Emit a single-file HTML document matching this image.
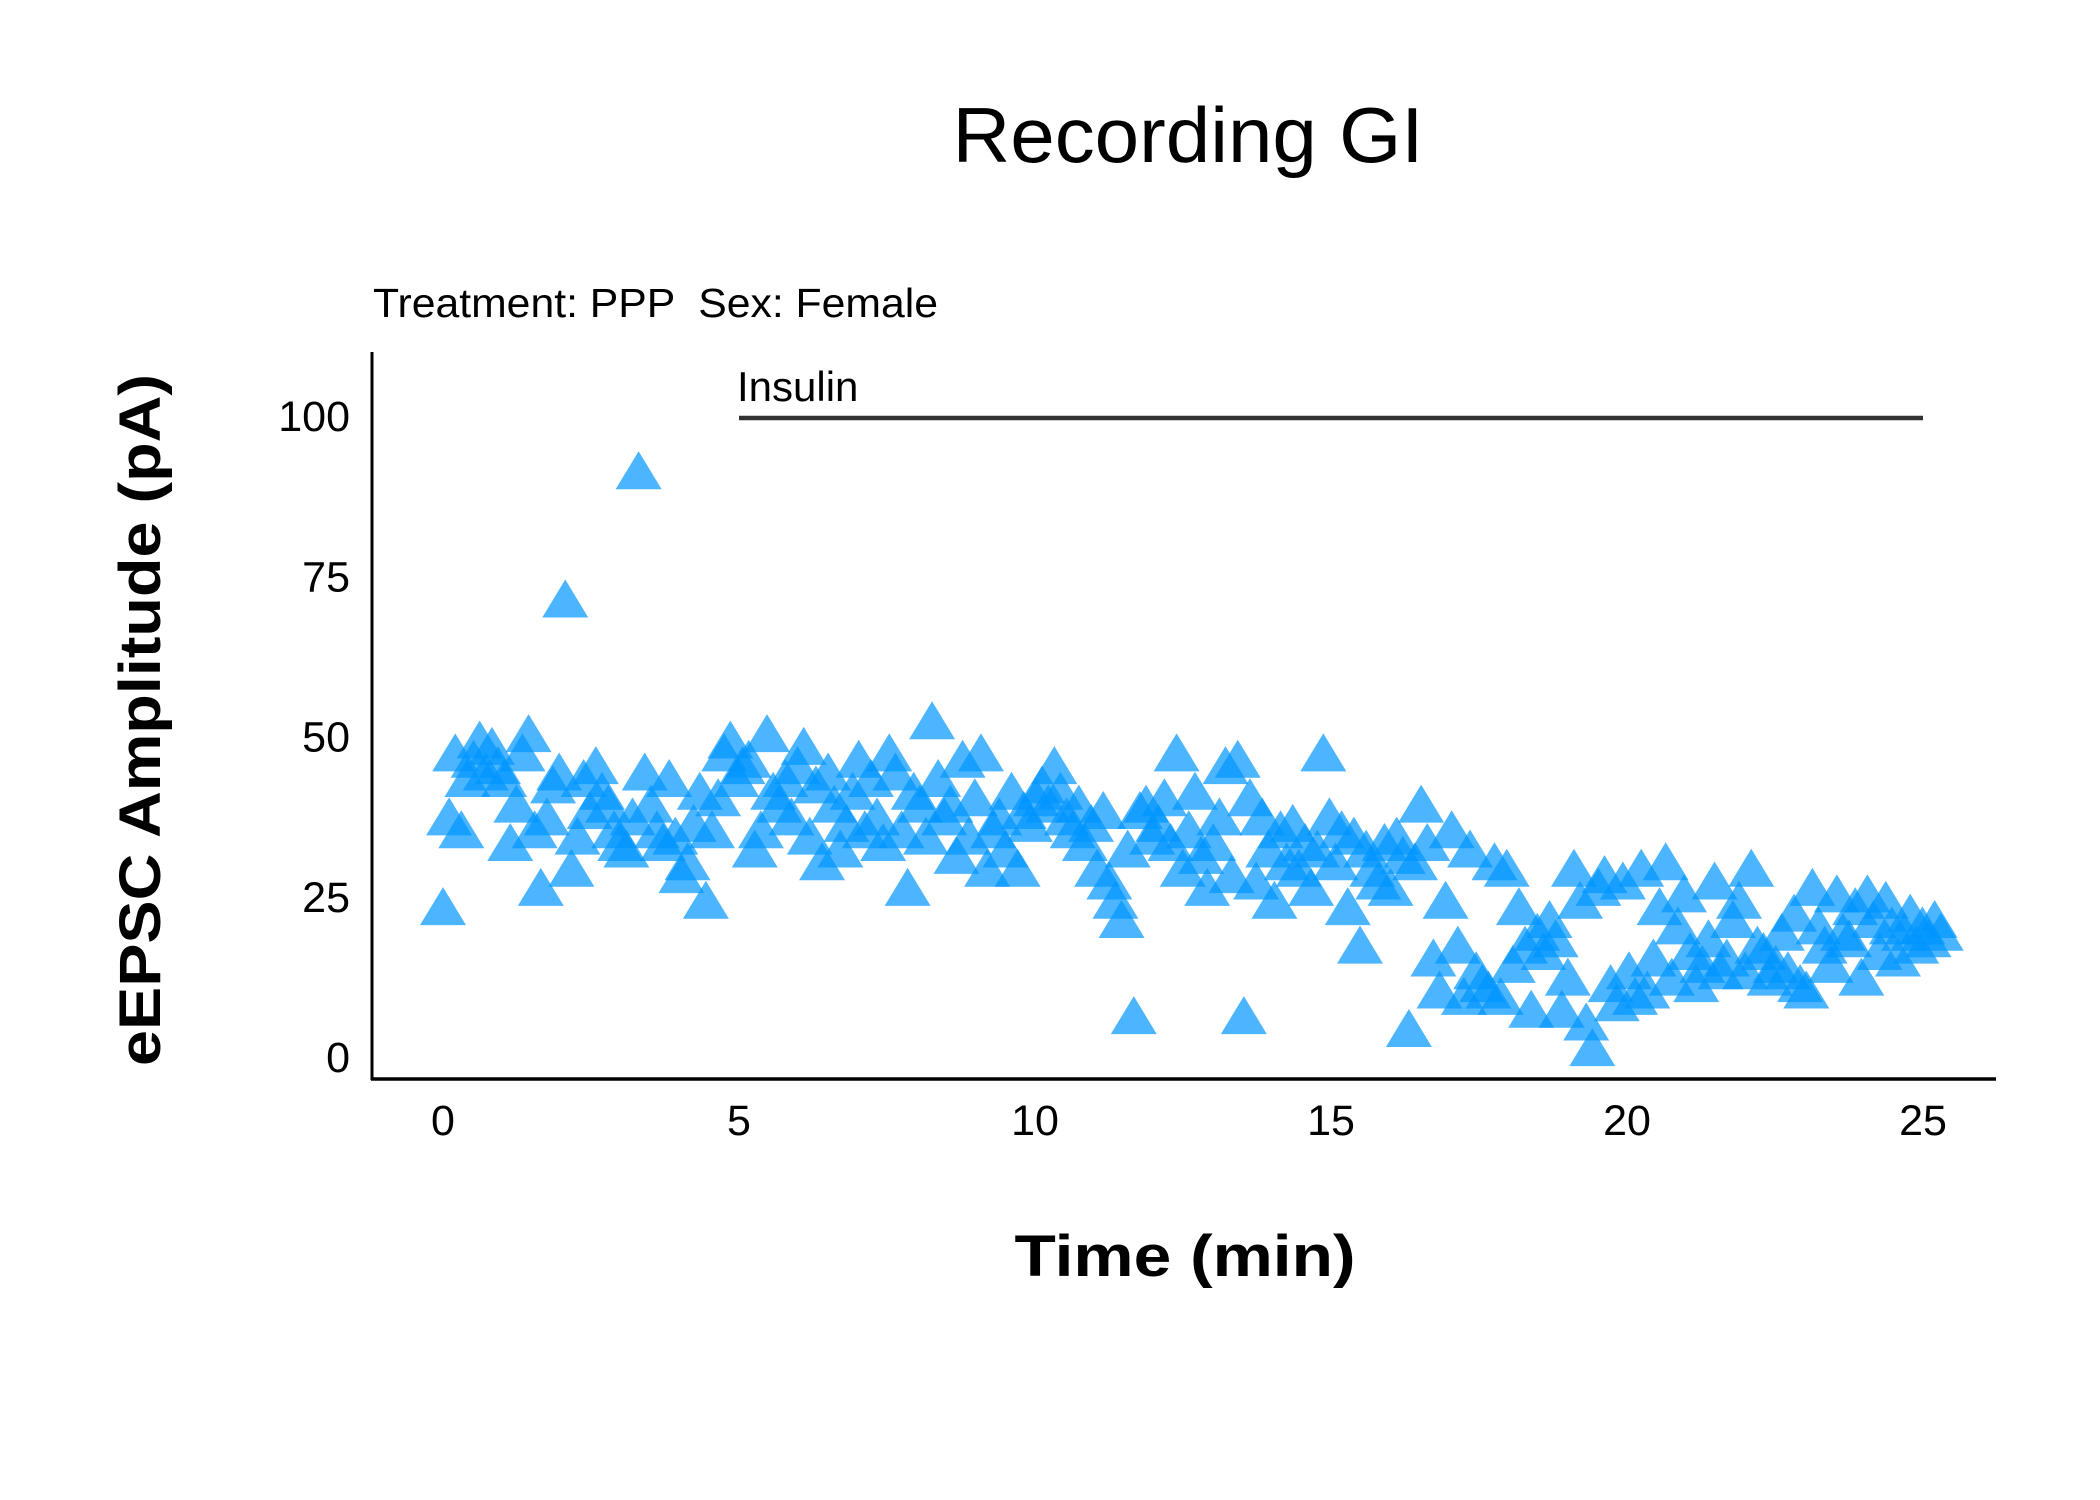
<!DOCTYPE html>
<html><head><meta charset="utf-8"><style>
html,body{margin:0;padding:0;background:#fff}
svg{display:block}
text{font-family:"Liberation Sans",sans-serif;fill:#000}
</style></head><body>
<svg id="chart" width="2100" height="1500" viewBox="0 0 2100 1500" xmlns="http://www.w3.org/2000/svg">
<text x="1188" y="162" font-size="78" text-anchor="middle" textLength="471" lengthAdjust="spacingAndGlyphs">Recording GI</text>
<text x="373" y="317" font-size="41" textLength="565" lengthAdjust="spacingAndGlyphs" xml:space="preserve">Treatment: PPP  Sex: Female</text>
<g id="plot"></g>
<line x1="372" y1="352" x2="372" y2="1080" stroke="#000" stroke-width="3"/>
<line x1="371" y1="1079" x2="1996" y2="1079" stroke="#000" stroke-width="3.5"/>
<g id="yticks"></g>
<g id="xticks"></g>
<text x="1185" y="1276" font-size="58" font-weight="bold" text-anchor="middle" textLength="341" lengthAdjust="spacingAndGlyphs">Time (min)</text>
<text transform="translate(160,720) rotate(-90)" font-size="58" font-weight="bold" text-anchor="middle" textLength="692" lengthAdjust="spacingAndGlyphs">eEPSC Amplitude (pA)</text>
</svg>
<script>
const amplitudes = [
24,38,48,36,44,47,50,45,49,46,
44,34,40,48,51,36,27,38,43,45,
72,30,35,44,39,46,42,40,36,34,
33,38,92,45,40,36,34,44,35,29,
31,37,42,25,36,41,48,50,44,46,
47,33,36,51,42,40,44,38,46,49,
35,43,31,45,40,33,37,42,47,36,
44,38,34,48,45,36,27,42,40,35,
53,44,38,40,32,47,35,41,48,30,
36,38,33,42,30,39,37,41,43,40,
46,42,38,36,40,34,37,30,39,28,
25,22,33,7,39,40,35,37,41,34,
48,30,36,42,32,27,34,38,46,29,
47,7,41,28,38,33,25,36,31,37,
30,34,27,33,48,38,31,36,24,35,
18,33,30,28,34,27,35,32,5,31,
40,34,16,11,25,36,18,10,33,14,
12,11,31,10,30,15,24,18,8,20,
17,22,19,8,13,30,25,6,2,27,
29,12,9,28,14,10,30,11,16,24,
31,13,21,26,17,12,15,19,28,14,
16,22,25,14,30,18,17,13,15,20,
14,23,12,11,27,21,18,15,26,20,
19,24,13,26,22,17,25,21,16,20,
23,18,21,19,22,20
];
const tEnd = 25.3;
const yTickValues = [0,25,50,75,100];
const xTickValues = [0,5,10,15,20,25];
const insulinStart = 5, insulinEnd = 25, insulinLevel = 100;

const NS = "http://www.w3.org/2000/svg";
function xs(t){ return 443 + t*(1923-443)/25; }
function ys(v){ return 1062 - v*(1062-421)/100; }

const plot = document.getElementById('plot');
const n = amplitudes.length;
amplitudes.forEach((v,i)=>{
  const t = i*tEnd/(n-1);
  const cx = xs(t), cy = ys(v);
  const p = document.createElementNS(NS,'polygon');
  p.setAttribute('points', `${cx-23},${cy+17} ${cx+23},${cy+17} ${cx},${cy-21}`);
  p.setAttribute('fill','#0096ff');
  p.setAttribute('fill-opacity','0.7');
  
  
  plot.appendChild(p);
});

const bar = document.createElementNS(NS,'line');
bar.setAttribute('x1', xs(insulinStart)); bar.setAttribute('x2', xs(insulinEnd));
bar.setAttribute('y1', ys(insulinLevel)-3); bar.setAttribute('y2', ys(insulinLevel)-3);
bar.setAttribute('stroke','#333'); bar.setAttribute('stroke-width','4.5');


plot.appendChild(bar);
const lab = document.createElementNS(NS,'text');
lab.setAttribute('x', xs(insulinStart)-2); lab.setAttribute('y', ys(insulinLevel)-20);
lab.setAttribute('font-size','42');
lab.textContent = 'Insulin';


plot.appendChild(lab);

const yt = document.getElementById('yticks');
yTickValues.forEach(v=>{
  const t = document.createElementNS(NS,'text');
  t.setAttribute('x', 350); t.setAttribute('y', ys(v)+10);
  t.setAttribute('font-size','43'); t.setAttribute('text-anchor','end');
  t.textContent = v;
  
  
  yt.appendChild(t);
});
const xt = document.getElementById('xticks');
xTickValues.forEach(v=>{
  const t = document.createElementNS(NS,'text');
  t.setAttribute('x', xs(v)); t.setAttribute('y', 1135);
  t.setAttribute('font-size','43'); t.setAttribute('text-anchor','middle');
  t.textContent = v;
  
  
  xt.appendChild(t);
});
</script>
</body></html>
